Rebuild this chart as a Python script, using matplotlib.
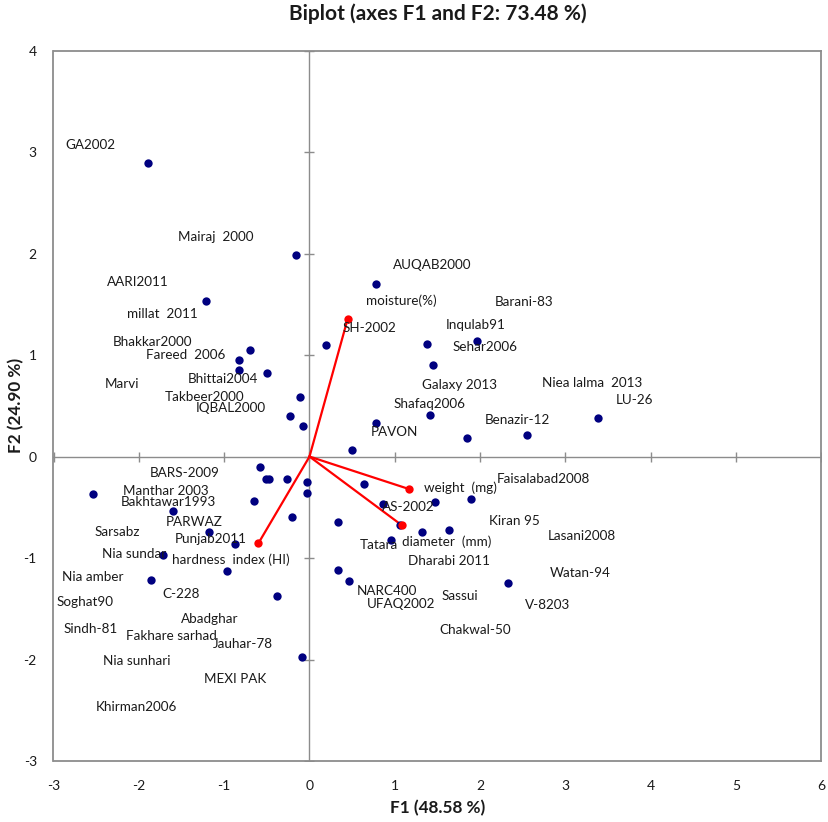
import matplotlib
matplotlib.use("Agg")
import matplotlib.pyplot as plt
import numpy as np

plt.rcParams['font.family'] = ['Lato', 'DejaVu Sans']
plt.rcParams['axes.unicode_minus'] = False

# Observation scores (F1, F2)
obs_f1 = [-1.89, -0.155, 0.776, -1.217, 0.195, 1.374, 1.96, -0.694, -0.83, -0.83,
          -0.502, 1.452, -0.113, -0.232, 1.417, 3.386, -0.073, 0.776, 2.553, 1.843,
          0.502, -0.577, -0.51, -0.475, -0.267, -0.035, -0.035, 0.639, -2.535, 1.897,
          -0.654, 1.471, 0.866, -1.604, -0.209, 0.330, 1.061, 1.632, 1.319, -1.175,
          0.952, -0.87, -1.721, 0.330, -0.964, -1.855, 0.467, 2.323, -0.385, -0.092]
obs_f2 = [2.89, 1.99, 1.70, 1.533, 1.096, 1.112, 1.135, 1.046, 0.954, 0.856,
          0.819, 0.901, 0.592, 0.398, 0.411, 0.382, 0.299, 0.332, 0.217, 0.184,
          0.069, -0.105, -0.224, -0.224, -0.224, -0.255, -0.354, -0.270, -0.368, -0.421,
          -0.434, -0.451, -0.467, -0.533, -0.599, -0.645, -0.671, -0.727, -0.740, -0.740,
          -0.823, -0.862, -0.967, -1.116, -1.132, -1.214, -1.231, -1.247, -1.375, -1.98]

# Observation labels and where they appear
obs_names = ["GA2002", "Mairaj  2000", "AARI2011", "AUQAB2000", "Barani-83", "SH-2002",
             "Inqulab91", "Sehar2006", "Galaxy 2013", "Niea lalma  2013", "LU-26",
             "Shafaq2006", "Benazir-12", "PAVON", "millat  2011", "Bhakkar2000",
             "Fareed  2006", "Marvi", "Bhittai2004", "Takbeer2000", "IQBAL2000",
             "BARS-2009", "Manthar 2003", "Bakhtawar1993", "PARWAZ", "Sarsabz",
             "Punjab2011", "Nia sundar", "Nia amber", "C-228", "Soghat90", "Abadghar",
             "Sindh-81", "Fakhare sarhad", "Jauhar-78", "Nia sunhari", "MEXI PAK",
             "Khirman2006", "Faisalabad2008", "AS-2002", "Kiran 95", "Lasani2008",
             "Tatara", "Dharabi 2011", "Watan-94", "NARC400", "Sassui", "UFAQ2002",
             "V-8203", "Chakwal-50"]
obs_label_x = [-2.857, -1.538, -2.377, 0.982, 2.170, 0.384, 1.600, 1.678, 1.322, 2.721,
               3.592, 0.982, 2.057, 0.721, -2.142, -2.306, -1.916, -2.397, -1.432, -1.693,
               -1.330, -1.869, -2.189, -2.209, -1.685, -2.522, -1.584, -2.428, -2.900, -1.720,
               -2.963, -1.509, -2.877, -2.150, -1.127, -2.424, -1.233, -2.502, 2.189, 0.850,
               2.100, 2.792, 0.584, 1.158, 2.815, 0.553, 1.553, 0.674, 2.529, 1.518]
obs_label_y = [3.067, 2.167, 1.716, 1.891, 1.526, 1.269, 1.296, 1.079, 0.704, 0.724,
               0.559, 0.520, 0.362, 0.247, 1.407, 1.131, 1.000, 0.714, 0.766, 0.586,
               0.480, -0.164, -0.335, -0.444, -0.644, -0.742, -0.814, -0.956, -1.189, -1.354,
               -1.436, -1.598, -1.702, -1.765, -1.850, -2.018, -2.195, -2.471, -0.223, -0.493,
               -0.637, -0.782, -0.871, -1.032, -1.144, -1.327, -1.374, -1.456, -1.463, -1.712]

# Variable loadings
var_names = ["moisture(%)", "weight  (mg)", "diameter  (mm)", "hardness  index (HI)"]
var_f1 = [0.448, 1.163, 1.084, -0.600]
var_f2 = [1.359, -0.319, -0.678, -0.856]
var_label_x = [0.662, 1.345, 1.084, -1.615]
var_label_y = [1.538, -0.306, -0.841, -1.018]

x_ticks = list(range(-3, 7))
y_ticks = list(range(-3, 5))

grey = '#8c8c8c'
txt = '#1a1a1a'
fig = plt.figure(figsize=(8.29, 8.22), dpi=100)
ax = fig.add_axes([53.5/829, 61/822, 768/829, 710.3/822])
ax.set_xlim(-3, 6)
ax.set_ylim(-3, 4)

ax.axhline(0, color=grey, lw=1.0, zorder=1)
ax.axvline(0, color=grey, lw=1.0, zorder=1)
# crossing ticks on zero lines
ax.plot(x_ticks, [0]*len(x_ticks), ls='none', marker='|', ms=7, mew=1.0, color=grey, zorder=1)
ax.plot([0]*len(y_ticks), y_ticks, ls='none', marker='_', ms=7, mew=1.0, color=grey, zorder=1)

for s in ax.spines.values():
    s.set_color(grey)
    s.set_linewidth(1.3)

ax.set_xticks(x_ticks)
ax.set_yticks(y_ticks)
ax.tick_params(length=0, labelsize=10, colors=txt)
ax.tick_params(axis='x', pad=14)
ax.tick_params(axis='y', pad=12)

ax.scatter(obs_f1, obs_f2, s=36, color='#000080', zorder=3, linewidths=0)

for vx, vy in zip(var_f1, var_f2):
    ax.plot([0, vx], [0, vy], color='#ff0000', lw=1.6, zorder=2)
ax.scatter(var_f1, var_f2, s=36, color='#ff0000', zorder=4, linewidths=0)

for n, lx, ly in zip(obs_names, obs_label_x, obs_label_y):
    ax.text(lx, ly, n, fontsize=9.7, ha='left', va='center', color=txt, zorder=5)
for n, lx, ly in zip(var_names, var_label_x, var_label_y):
    ax.text(lx, ly, n, fontsize=9.7, ha='left', va='center', color=txt, zorder=5)

fig.text((53.5 + 384) / 829, 1 - 14 / 822, "Biplot (axes F1 and F2: 73.48 %)",
         fontsize=15, fontweight='bold', ha='center', va='center', color=txt)
ax.set_xlabel("F1 (48.58 %)", fontsize=12.3, fontweight='bold', color=txt)
ax.xaxis.set_label_coords(0.5, -(808 - 761) / 710.3)
ax.set_ylabel("F2 (24.90 %)", fontsize=12.3, fontweight='bold', color=txt)
ax.yaxis.set_label_coords(-(53.5 - 16) / 768, 0.5)
ax.xaxis.label.set_va('center')
ax.yaxis.label.set_va('center')

fig.savefig("out.png", dpi=100)
